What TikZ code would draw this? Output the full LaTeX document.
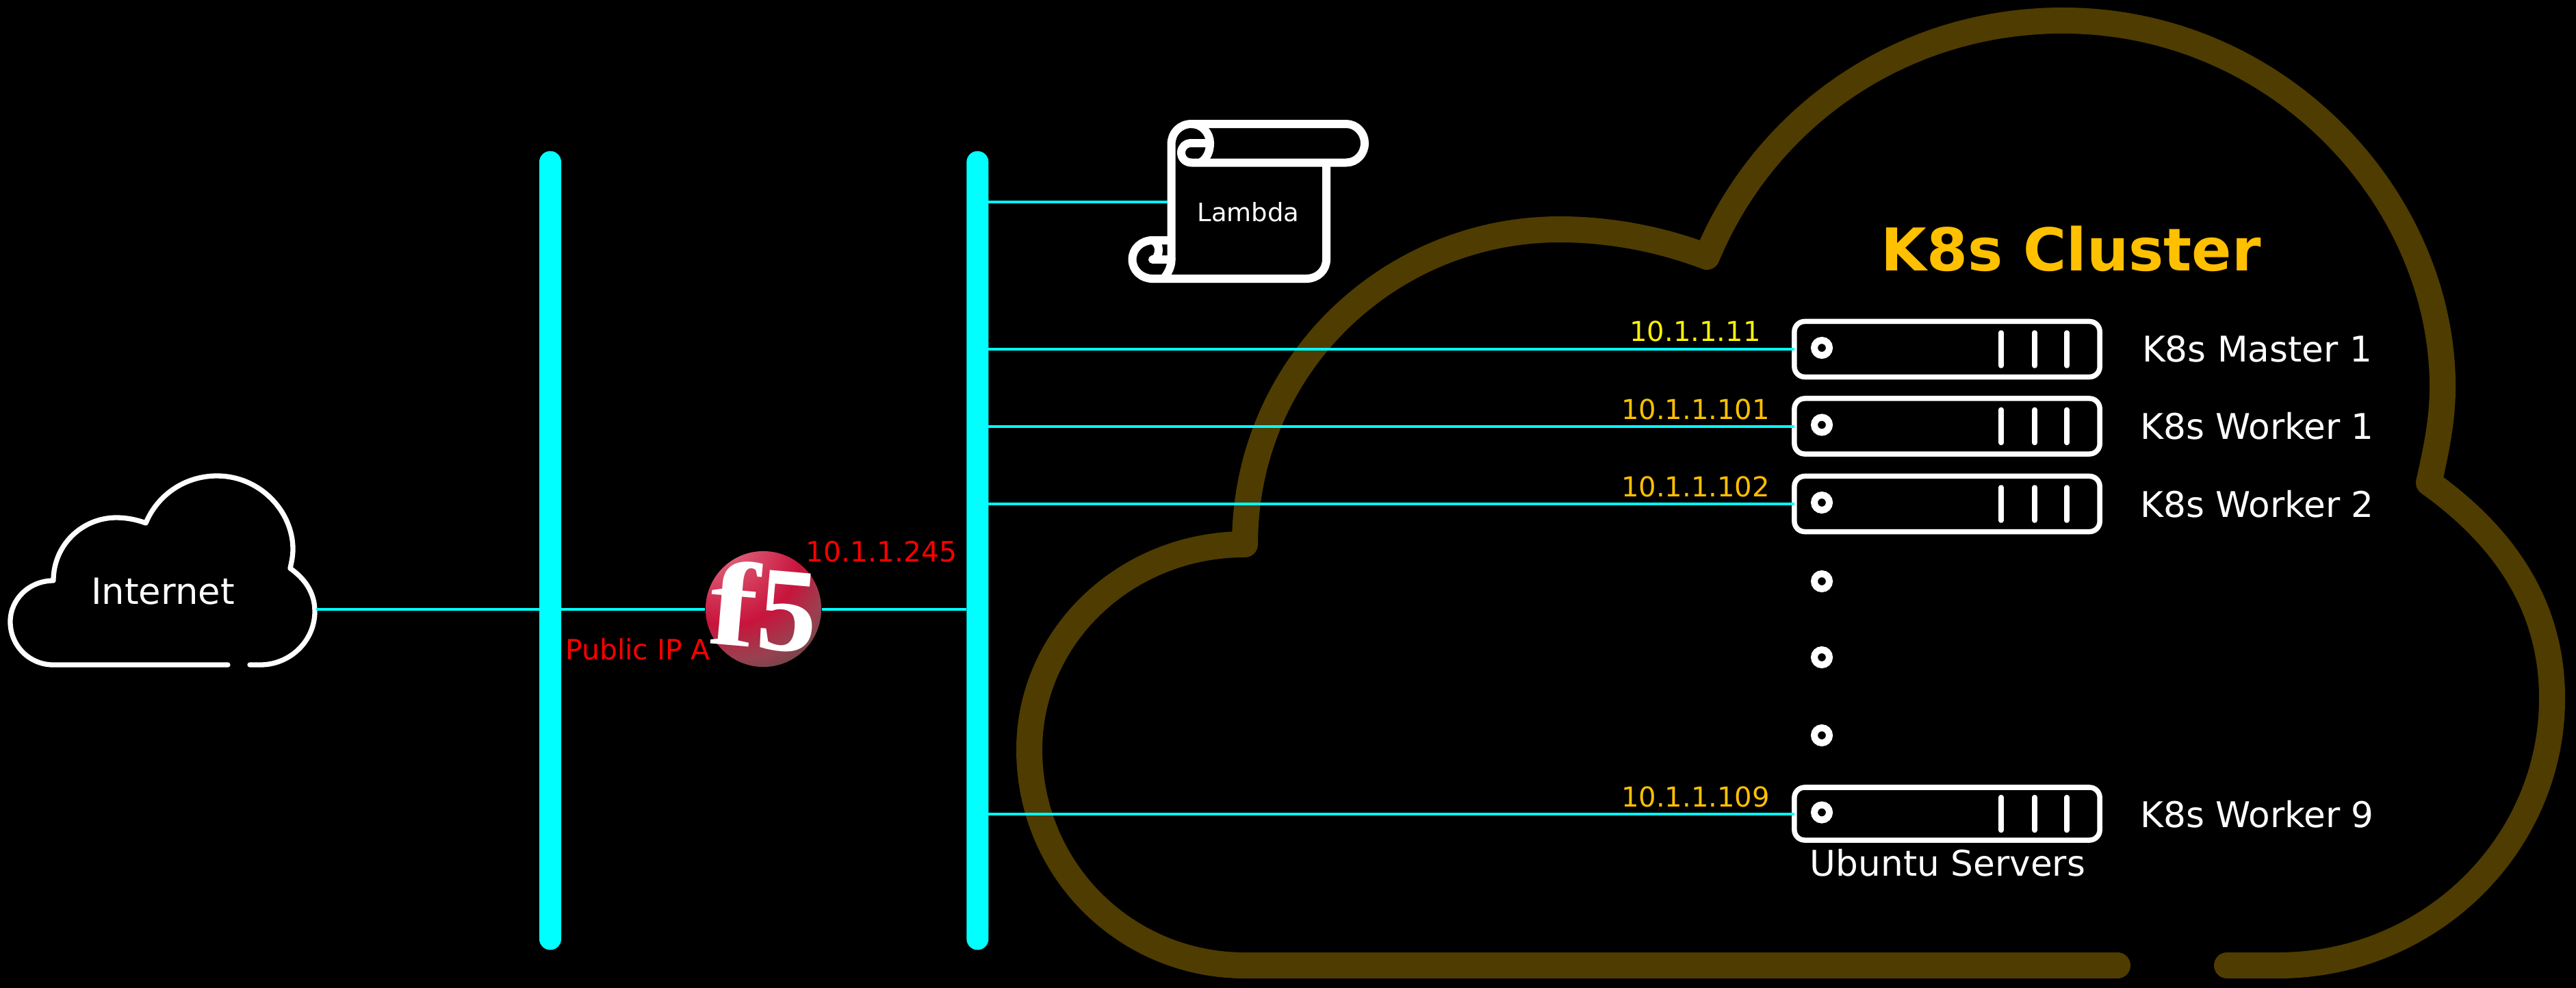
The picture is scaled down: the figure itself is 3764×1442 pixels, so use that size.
\documentclass[tikz,border=0pt]{standalone}
\usepackage{xcolor}
\usepackage{graphicx}
\usepackage{fontspec}
\setmainfont{DejaVu Sans}
\newfontfamily\logofont{Liberation Serif}
\usepackage{tikz}
\usetikzlibrary{positioning}

\definecolor{linkcyan}{HTML}{00FFFF}
\definecolor{clusterline}{HTML}{4F3C00}
\definecolor{clustergold}{HTML}{FFC000}
\definecolor{ballhigh}{HTML}{F2C8C8}
\definecolor{ballmid}{HTML}{DC5570}
\definecolor{ballred}{HTML}{C8143C}
\definecolor{ballside}{HTML}{9A4050}
\definecolor{balldark}{HTML}{5A4848}
\pgfdeclareradialshading{fball}{\pgfpoint{-24bp}{38bp}}{%
  color(0bp)=(ballhigh); color(14bp)=(ballmid); color(31bp)=(ballred);
  color(41bp)=(ballside); color(50bp)=(balldark); color(85bp)=(balldark)}

\begin{document}
\begin{tikzpicture}[
  x=0.01cm, y=-0.01cm,
  bus/.style={fill=linkcyan, rounded corners=0.16cm, minimum width=0.32cm, minimum height=11.66cm,
              inner sep=0pt, outer sep=0pt},
  link/.style={linkcyan, line width=0.04cm},
  srvbox/.style={draw=white, line width=0.075cm, rounded corners=0.15cm, minimum width=4.46cm,
                 minimum height=0.81cm, inner sep=0pt, outer sep=0pt},
  port/.style={circle, draw=white, line width=0.1cm, minimum size=0.22cm, inner sep=0pt},
  slot/.style={white, line width=0.075cm, line cap=round},
  outl/.style={white, line width=0.12cm, line join=round},
  txt/.style={anchor=base, inner sep=0pt, text=white},
  iplbl/.style={txt, text=clustergold, font=\fontsize{11.4}{13}\selectfont},
  redlbl/.style={txt, text=red, font=\fontsize{11.6}{13}\selectfont},
  hostlbl/.style={txt, font=\fontsize{14.7}{17}\selectfont},
  cloudbody/.pic={
    \draw[line cap=round, line join=round]
      (350,276) -- (365,276) .. controls (409,276) and (445,241) .. (445,198)
      .. controls (445,170) and (430,150) .. (409,135)
      .. controls (411,126) and (413,117) .. (413,107)
      .. controls (413,52) and (365,0) .. (302,0)
      .. controls (255,0) and (215,28) .. (198,69)
      .. controls (185,64) and (170,61) .. (155,61)
      .. controls (105,61) and (63,101) .. (63,153)
      .. controls (28,153) and (0,180) .. (0,213)
      .. controls (0,248) and (28,276) .. (63,276) -- (318,276);
  },
  srvfront/.pic={
    \node[port] (-led) at (-183,-2) {};
    \draw[slot] (79,-24) -- (79,24);
    \draw[slot] (128,-24) -- (128,24);
    \draw[slot] (175,-24) -- (175,24);
  }
]
\path[use as bounding box] (0,0) rectangle (3764,1442);
\fill[black] (-10,-10) rectangle (3774,1452);

%% Clouds
\pic[scale=5, line width=0.38cm, color=clusterline] at (1504,30) {cloudbody};
\pic[line width=0.073cm, color=white] at (15,695) {cloudbody};
\node[txt, font=\fontsize{15}{18}\selectfont] (inet) at (238,882) {Internet};
\coordinate (netport) at (462,889.5);

%% Network segments
\node[bus] (bus1) at (804,804) {};
\node[bus, right=5.92cm of bus1] (bus2) {};

%% Load balancer
\node[circle, shade, shading=fball, minimum size=1.69cm, inner sep=0pt] (fgate) at (1115.5,889.5) {};
\node[text=white, inner sep=0pt, rotate=-5,
      font=\logofont\bfseries\fontsize{50}{50}\selectfont] (fmark) at (1117,886) {\scalebox{1.2}[1]{f}5};
\draw[link] (netport) -- (fgate.west);
\draw[link] (fgate.east) -- (fgate.east -| bus2.west);
\node[redlbl] (pubip) at (932,963) {Public IP A};
\node[redlbl] (lbip) at (1288,820) {10.1.1.245};

%% Lambda scroll
\draw[outl] (1711.6,379) -- (1711.6,210) .. controls (1711.6,194) and (1724,181) .. (1741,181)
  -- (1967,181) .. controls (1982,181) and (1994,194) .. (1994,209)
  .. controls (1994,225) and (1982,237.5) .. (1967,237.5) -- (1741,237.5)
  .. controls (1732,237.5) and (1726,231) .. (1726,223)
  .. controls (1726,215) and (1732,209) .. (1741,209) -- (1762,209);
\draw[outl] (1741,181) .. controls (1756,181) and (1768,194) .. (1768,209)
  .. controls (1768,222) and (1763,232) .. (1754,237.5);
\draw[outl] (1938,237.5) -- (1938,379) .. controls (1938,395) and (1925,407) .. (1909,407) -- (1684,407)
  .. controls (1668,407) and (1654.5,395) .. (1654.5,379)
  .. controls (1654.5,363) and (1668,351) .. (1684,351) -- (1711.6,351);
\draw[outl] (1684,351) .. controls (1690,353) and (1693,359) .. (1693,365)
  .. controls (1693,372) and (1690,379) .. (1684,379) -- (1711.6,379)
  .. controls (1711.6,389) and (1707,399) .. (1700,407);
\node[txt, font=\fontsize{10.5}{13}\selectfont] (lam) at (1824,323) {Lambda};
\coordinate (lamport) at (1706,295);
\draw[link] (bus2.east |- lamport) -- (lamport);

%% Cluster
\node[txt, text=clustergold, font=\bfseries\fontsize{24.5}{28}\selectfont] (k8s) at (3026,395) {K8s Cluster};

\node[srvbox] (srv1) at (2845,510) {};
\node[srvbox] (srv2) at (2845,622.5) {};
\node[srvbox] (srv3) at (2845,736) {};
\node[srvbox, minimum height=0.77cm] (srv4) at (2845,1188.5) {};
\pic (fp1) at (srv1) {srvfront};
\pic (fp2) at (srv2) {srvfront};
\pic (fp3) at (srv3) {srvfront};
\pic (fp4) at (srv4) {srvfront};

\node[port] (dot1) at (2662,849) {};
\node[port] (dot2) at (2662,960) {};
\node[port] (dot3) at (2662,1074) {};

\draw[link] (srv1.west -| bus2.east) -- (srv1.west);
\draw[link] (srv2.west -| bus2.east) -- (srv2.west);
\draw[link] (srv3.west -| bus2.east) -- (srv3.west);
\draw[link] (srv4.west -| bus2.east) -- (srv4.west);

\node[iplbl, text=yellow] (ip1) at (2477,498) {10.1.1.11};
\node[iplbl] (ip2) at (2477.5,612) {10.1.1.101};
\node[iplbl] (ip3) at (2477.5,725) {10.1.1.102};
\node[iplbl] (ip4) at (2477.5,1178) {10.1.1.109};

\node[hostlbl] (host1) at (3298,528) {K8s Master 1};
\node[hostlbl] (host2) at (3298,641) {K8s Worker 1};
\node[hostlbl] (host3) at (3298,755) {K8s Worker 2};
\node[hostlbl] (host4) at (3298,1208.5) {K8s Worker 9};
\node[hostlbl] (ubt) at (2846,1279) {Ubuntu Servers};
\end{tikzpicture}
\end{document}
